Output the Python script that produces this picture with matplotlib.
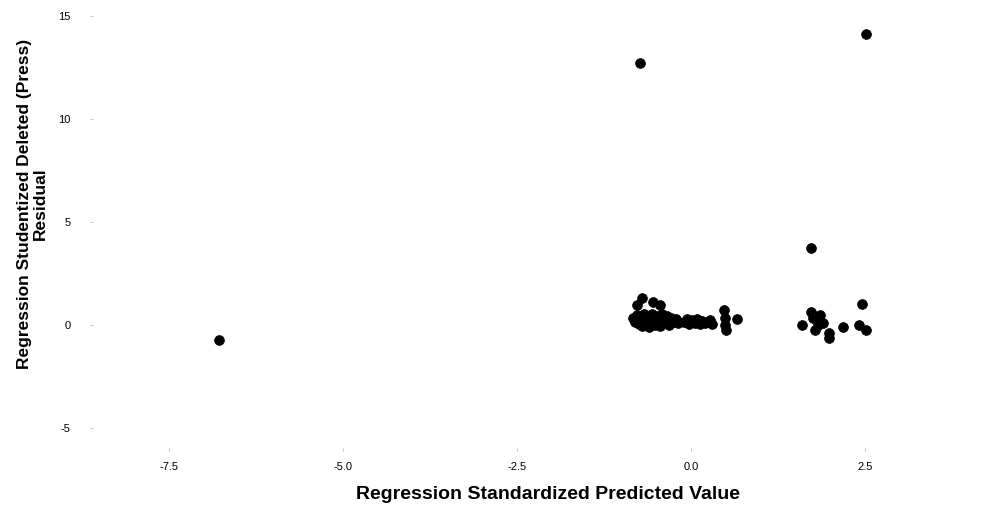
import matplotlib
matplotlib.use('Agg')
import matplotlib.pyplot as plt

plt.rcParams['font.family'] = ['Liberation Sans', 'DejaVu Sans']
plt.rcParams['axes.unicode_minus'] = False

# standardized predicted value vs. studentized deleted residual
pred = [-6.78, -0.73, 2.52, 1.72,
        -0.83, -0.81, -0.78, -0.75, -0.72, -0.70, -0.68, -0.66, -0.62, -0.60,
        -0.58, -0.56, -0.54, -0.52, -0.49, -0.47, -0.45, -0.43, -0.41, -0.39,
        -0.36, -0.34, -0.32, -0.30, -0.28, -0.24, -0.22, -0.19,
        -0.10, -0.06, -0.03, 0.02, 0.06, 0.09, 0.13, 0.16, 0.20, 0.24, 0.28, 0.30,
        0.48, 0.49, 0.49, 0.51, 0.66,
        -0.70, -0.54, -0.44, -0.78,
        1.60, 1.76, 1.83, 1.90, 1.79, 1.98, 1.98, 2.19, 2.46, 2.41, 2.51, 1.72, 1.86]
resid = [-0.73, 12.7, 14.1, 3.75,
         0.35, 0.15, 0.50, 0.05, 0.30, -0.05, 0.55, 0.20, 0.40, -0.08,
         0.10, 0.55, 0.30, 0.00, 0.45, 0.18, -0.05, 0.35, 0.55, 0.10,
         0.25, 0.45, 0.00, 0.20, 0.35, 0.15, 0.30, 0.10,
         0.15, 0.30, 0.05, 0.25, 0.10, 0.30, 0.05, 0.20, 0.10, 0.15, 0.25, 0.05,
         0.70, 0.35, 0.00, -0.25, 0.30,
         1.32, 1.12, 0.95, 0.95,
         0.00, 0.34, 0.00, 0.10, -0.24, -0.39, -0.63, -0.10, 1.02, 0.00, -0.24, 0.63, 0.49]

x_ticks = [-7.5, -5.0, -2.5, 0.0, 2.5]
x_labels = ['-7.5', '-5.0', '-2.5', '0.0', '2.5']
y_ticks = [15, 10, 5, 0, -5]

fig = plt.figure(figsize=(9.98, 5.09), dpi=100)
ax = fig.add_axes([0.093, 0.119, 0.899, 0.880])

ax.scatter(pred, resid, s=50, color='black', edgecolors='black', linewidths=0.5)

ax.set_xlim(-8.6, 4.3)
ax.set_ylim(-6, 15.75)
ax.set_xticks(x_ticks)
ax.set_xticklabels(x_labels)
ax.set_yticks(y_ticks)
ax.tick_params(labelsize=8, length=2, color='#bbbbbb', width=0.6)
ax.tick_params(axis='x', pad=8)
ax.tick_params(axis='y', pad=14)
for s in ax.spines.values():
    s.set_visible(False)

ax.set_xlabel('Regression Standardized Predicted Value', fontsize=14, fontweight='bold')
ax.xaxis.set_label_coords(0.507, -0.084)
ax.set_ylabel('Regression Studentized Deleted (Press)\nResidual', fontsize=12.5,
              fontweight='bold', linespacing=1.05)
ax.yaxis.set_label_coords(-0.050, 0.546)

plt.savefig('out.png', dpi=100)
